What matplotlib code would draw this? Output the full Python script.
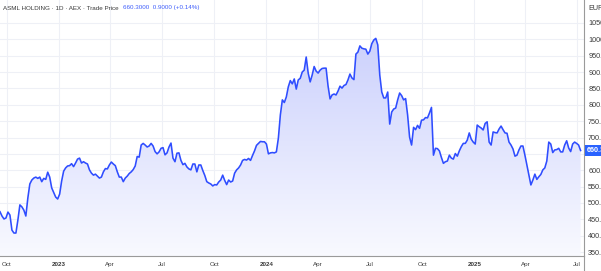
import matplotlib
matplotlib.use("Agg")
import matplotlib.pyplot as plt
import matplotlib.dates as mdates
import numpy as np
import pandas as pd
from matplotlib.colors import LinearSegmentedColormap

plt.rcParams["font.family"] = ["Liberation Sans", "DejaVu Sans"]

# ---- data (EUR) ----
start_date = "2022-09-19"
# Monday readings
prices_mon = [
    473, 451, 472, 417, 408, 494, 478, 515, 570, 579,
    579, 575, 594, 546, 518, 527, 597, 613, 620, 622,
    637, 626, 619, 591, 588, 576, 595, 604, 625, 614,
    579, 565, 582, 595, 613, 640, 682, 671, 682, 657,
    656, 669, 653, 683, 626, 653, 617, 610, 601, 619,
    616, 599, 565, 558, 556, 564, 585, 556, 564, 591,
    607, 630, 631, 630, 659, 682, 687, 680, 653, 653,
    698, 815, 824, 874, 879, 876, 900, 946, 870, 917,
    897, 911, 912, 818, 833, 842, 851, 862, 894, 877,
    961, 973, 970, 964, 998, 983, 839, 821, 741, 787,
    815, 828, 819, 701, 731, 737, 753, 761, 775, 646,
    666, 639, 626, 646, 634, 643, 672, 682, 714, 686,
    738, 729, 743, 686, 717, 714, 735, 714, 686, 665,
    646, 674, 646, 585, 570, 572, 587, 607, 686, 654,
    663, 656, 677, 668, 680, 682, 660.3,
]
# mid-week (Thursday) readings
prices_thu = [
    460, 454, 463, 408, 448, 488, 460, 558, 576, 575,
    565, 572, 579, 532, 512, 567, 607, 614, 611, 634,
    622, 622, 601, 585, 582, 579, 605, 616, 619, 595,
    579, 576, 590, 602, 642, 677, 677, 674, 674, 650,
    667, 647, 671, 637, 652, 630, 621, 604, 619, 595,
    616, 584, 561, 552, 555, 570, 569, 570, 567, 601,
    616, 633, 636, 645, 676, 688, 687, 650, 654, 656,
    769, 807, 855, 864, 848, 881, 906, 897, 891, 903,
    906, 912, 857, 830, 830, 857, 859, 876, 882, 955,
    980, 971, 955, 987, 1003, 891, 821, 839, 778, 790,
    836, 815, 769, 677, 724, 728, 754, 760, 792, 667,
    659, 621, 628, 637, 651, 659, 682, 692, 695, 680,
    733, 723, 748, 677, 715, 726, 724, 713, 677, 643,
    662, 674, 616, 555, 588, 580, 601, 628, 680, 662,
    667, 656, 690, 657, 686, 677,
]

tick_dates = ["2022-10-01", "2023-01-01", "2023-04-01", "2023-07-01",
              "2023-10-01", "2024-01-01", "2024-04-01", "2024-07-01",
              "2024-10-01", "2025-01-01", "2025-04-01", "2025-07-01"]
tick_labels = ["Oct", "2023", "Apr", "Jul", "Oct", "2024", "Apr", "Jul",
               "Oct", "2025", "Apr", "Jul"]
y_ticks = [350, 400, 450, 500, 550, 600, 650, 700, 750, 800, 850, 900,
           950, 1000, 1050]

last_price = 660.3
title_main = "ASML HOLDING · 1D · AEX · Trade Price"
title_vals = "660.3000  0.9000 (+0.14%)"

# interleave Monday / Thursday readings
prices = []
for k, p in enumerate(prices_mon):
    prices.append(p)
    if k < len(prices_thu):
        prices.append(prices_thu[k])
dates = pd.date_range(start_date, periods=len(prices), freq="84h")

# ---- style ----
line_color = "#2f4dff"
text_color = "#3a3a3a"
grid_color = "#eef0f6"
FS = 4.5
FSY = 5.2

fig = plt.figure(figsize=(6.01, 2.71), dpi=100)
W, H = 601, 271
ax = fig.add_axes([0, (H - 256) / H, 584 / W, 256 / H])

x0 = mdates.date2num(pd.Timestamp("2022-09-19"))
x1 = mdates.date2num(pd.Timestamp("2025-07-13"))
ymin, ymax = 337.8, 1120.3
ax.set_xlim(x0, x1)
ax.set_ylim(ymin, ymax)

xd = mdates.date2num(dates)
yv = np.array(prices, dtype=float)

# gradient fill under the line
poly = ax.fill_between(xd, yv, ymin, color="none", lw=0)
cmap = LinearSegmentedColormap.from_list(
    "g", [(0, (0.975, 0.978, 1.0)), (1, (0.80, 0.82, 0.99))])
grad = np.linspace(0, 1, 256).reshape(-1, 1)
img = ax.imshow(grad, extent=[x0, x1, ymin, 1000], origin="lower",
                aspect="auto", cmap=cmap, zorder=1)
img.set_clip_path(poly.get_paths()[0], transform=ax.transData)

ax.plot(xd, yv, color=line_color, lw=1.15, zorder=3, solid_joinstyle="round")

# grid
for yt in y_ticks:
    ax.axhline(yt, color=grid_color, lw=0.8, zorder=0)
for td in tick_dates:
    ax.axvline(mdates.date2num(pd.Timestamp(td)), color=grid_color, lw=0.8, zorder=0)

# axes styling
for s in ["top", "left"]:
    ax.spines[s].set_visible(False)
for s in ["right", "bottom"]:
    ax.spines[s].set_color("#9a9a9a")
    ax.spines[s].set_linewidth(0.8)

ax.yaxis.tick_right()
ax.set_yticks(y_ticks)
ax.set_yticklabels(["" if v == 650 else f"{v:.1f}" for v in y_ticks],
                   fontsize=FSY, color=text_color)
ax.tick_params(axis="y", length=0, pad=3)

ax.set_xticks([mdates.date2num(pd.Timestamp(t)) for t in tick_dates])
ax.set_xticklabels(tick_labels, fontsize=FS, color=text_color)
ax.tick_params(axis="x", length=0, pad=4)
for lbl in ax.get_xticklabels():
    if lbl.get_text().isdigit():
        lbl.set_fontweight("bold")

# right spine continues below
fig.add_artist(plt.Line2D([584 / W, 584 / W], [0, (H - 256) / H],
                          color="#9a9a9a", lw=0.8))

# title texts
t1 = fig.text(3 / W, 1 - 8 / H, title_main, fontsize=FS, color=text_color,
              va="center", ha="left")
fig.canvas.draw()
bb = t1.get_window_extent()
fig.text((bb.x1 + 4) / W, 1 - 8 / H, title_vals, fontsize=FS,
         color="#3f5efb", va="center", ha="left")

fig.text(588 / W, 1 - 8 / H, "EUR", fontsize=FSY, color=text_color,
         va="center", ha="left")

# last price label
ax.annotate(f"{last_price:.1f}", xy=(1, last_price), xycoords=("axes fraction", "data"),
            xytext=(2, 0), textcoords="offset points", fontsize=FSY,
            color="white", fontweight="bold", va="center", ha="left",
            bbox=dict(boxstyle="square,pad=0.3", fc="#2962ff", ec="none"),
            annotation_clip=False)

fig.savefig("out.png", dpi=100)
